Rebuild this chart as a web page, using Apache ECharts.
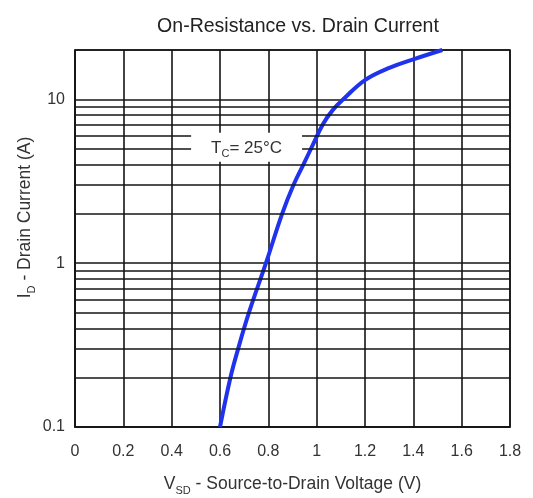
<!DOCTYPE html>
<html>
<head>
<meta charset="utf-8">
<script src="https://cdn.jsdelivr.net/npm/echarts@6/dist/echarts.min.js"></script>
<style>
html,body{margin:0;padding:0;background:#fff;}
#c{width:533px;height:498px;}
</style>
</head>
<body>
<div id="c"></div>
<script>
// Data
const vsd = [0.6, 0.643, 0.675, 0.72, 0.79, 0.857, 0.904, 0.945, 0.985, 1.027, 1.068, 1.11, 1.2, 1.303, 1.403, 1.52];
const drainCurrent = [0.1, 0.2, 0.3, 0.5, 1.0, 2.0, 3.0, 4.0, 5.3, 7.1, 8.65, 10, 13.1, 15.6, 17.6, 20];
const minorGridValues = [0.2, 0.3, 0.4, 0.5, 0.6, 0.7, 0.8, 0.9, 2, 3, 4, 5, 6, 7, 8, 9];
const xRange = [0, 1.8];
const xStep = 0.2;
const yRange = [0.1, 20];
const annotation = { v: 0.71, i: 5.1, text: '25°C' };

const FONT = 'Liberation Sans';
const gridColor = '#151515';
const chart = echarts.init(document.getElementById('c'));

const points = vsd.map((v, k) => [v, drainCurrent[k]]);

chart.setOption({
  backgroundColor: '#fff',
  animation: false,
  title: {
    text: 'On-Resistance vs. Drain Current',
    left: 293,
    textAlign: 'center',
    top: 12,
    textStyle: { fontFamily: FONT, fontSize: 19.5, fontWeight: 'normal', color: '#222' }
  },
  grid: {
    left: 75, right: 23, top: 50, bottom: 71,
    outerBoundsMode: 'none',
    containLabel: false,
    show: true, borderColor: gridColor, borderWidth: 1.5, backgroundColor: '#fff'
  },
  xAxis: {
    type: 'value',
    min: xRange[0], max: xRange[1], interval: xStep,
    axisLine: { show: true, lineStyle: { color: gridColor, width: 1.5 } },
    axisTick: { show: false },
    splitLine: { show: true, lineStyle: { color: gridColor, width: 1.6 } },
    axisLabel: { fontFamily: FONT, fontSize: 16, color: '#333', margin: 17 },
    name: '{m|V}{s|SD}{m| - Source-to-Drain Voltage (V)}',
    nameLocation: 'middle',
    nameGap: 45,
    nameMoveOverlap: false,
    nameTextStyle: {
      fontFamily: FONT, color: '#333',
      rich: {
        m: { fontFamily: FONT, fontSize: 17.5, color: '#333', lineHeight: 24, verticalAlign: 'middle' },
        s: { fontFamily: FONT, fontSize: 11, color: '#333', lineHeight: 24, verticalAlign: 'bottom' }
      }
    }
  },
  yAxis: {
    type: 'log',
    logBase: 10,
    min: yRange[0], max: yRange[1],
    axisLine: { show: true, lineStyle: { color: gridColor, width: 1.5 } },
    axisTick: { show: false },
    splitLine: { show: true, lineStyle: { color: gridColor, width: 1.6 } },
    axisLabel: { fontFamily: FONT, fontSize: 16, color: '#333', margin: 10, showMaxLabel: false },
    name: '{m|I}{s|D}{m| - Drain Current (A)}',
    nameLocation: 'middle',
    nameGap: 38,
    nameRotate: 90,
    nameMoveOverlap: false,
    nameTextStyle: {
      fontFamily: FONT, color: '#333',
      padding: [0, 0, 0, 42],
      rich: {
        m: { fontFamily: FONT, fontSize: 17.5, color: '#333', lineHeight: 24, verticalAlign: 'middle' },
        s: { fontFamily: FONT, fontSize: 11, color: '#333', lineHeight: 24, verticalAlign: 'bottom' }
      }
    }
  },
  series: [
    {
      name: 'minorGrid',
      type: 'line',
      data: [],
      z: 1,
      silent: true,
      markLine: {
        silent: true,
        symbol: ['none', 'none'],
        label: { show: false },
        animation: false,
        lineStyle: { color: gridColor, width: 1.6, type: 'solid' },
        emphasis: { disabled: true },
        data: minorGridValues.map(v => ({ yAxis: v }))
      }
    },
    {
      name: 'label',
      type: 'scatter',
      data: [],
      z: 2,
      silent: true,
      markPoint: {
        silent: true,
        symbol: 'rect',
        symbolSize: 0,
        animation: false,
        data: [{
          coord: [annotation.v, annotation.i],
          label: {
            show: true,
            position: 'inside',
            formatter: '{m|T}{s|C}{m|= ' + annotation.text + '}',
            backgroundColor: '#fff',
            padding: [4, 20, 2, 20],
            rich: {
              m: { fontFamily: FONT, fontSize: 17, color: '#333', lineHeight: 23, verticalAlign: 'middle' },
              s: { fontFamily: FONT, fontSize: 11, color: '#333', lineHeight: 23, verticalAlign: 'bottom' }
            }
          }
        }]
      }
    },
    {
      name: 'ID',
      type: 'line',
      data: points,
      z: 3,
      smooth: 0.4,
      symbol: 'none',
      lineStyle: { color: '#1f33ee', width: 4 }
    }
  ]
});
</script>
</body>
</html>
